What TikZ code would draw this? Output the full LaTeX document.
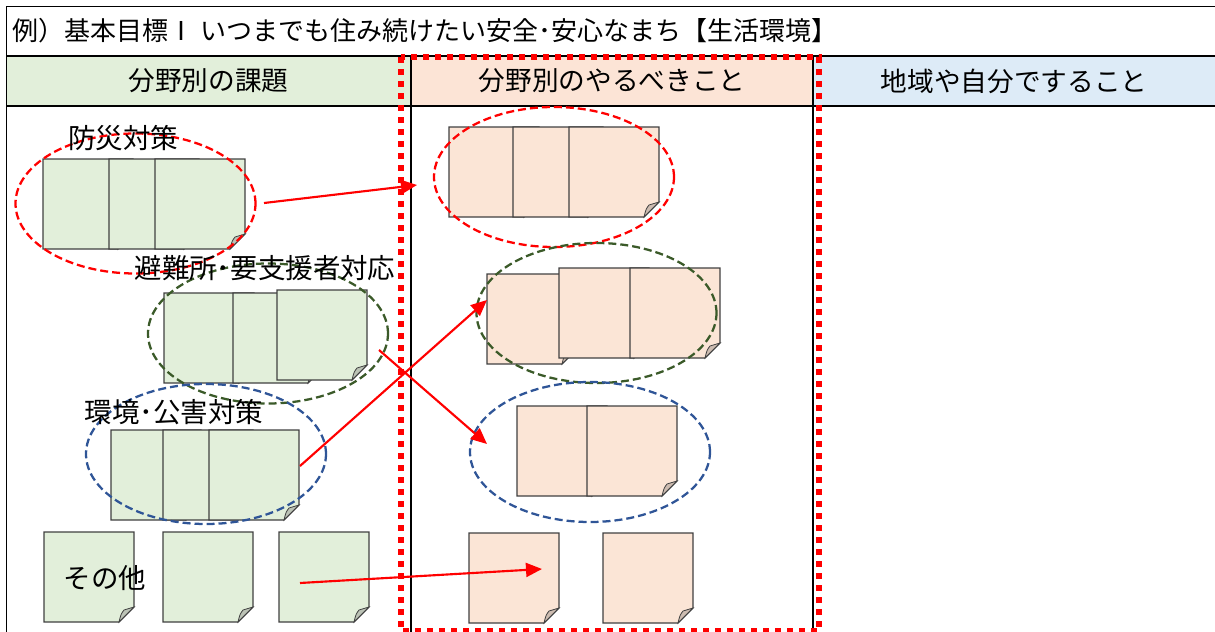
\documentclass[tikz,border=0pt]{standalone}
\usepackage{fontspec}
\setmainfont{Noto Sans CJK JP}
\usetikzlibrary{arrows.meta,shapes.geometric}
\definecolor{hgreen}{HTML}{E2EFDA}
\definecolor{hpink}{HTML}{FCE4D6}
\definecolor{hblue}{HTML}{DDEBF7}
\definecolor{ngreen}{HTML}{E2EFDA}
\definecolor{npink}{HTML}{FBE5D6}
\definecolor{fgreen}{HTML}{BCC3B6}
\definecolor{fpink}{HTML}{CDBCB1}
\definecolor{egreen}{HTML}{3B5A29}
\definecolor{eblue}{HTML}{2F5597}
\definecolor{ered}{HTML}{FF0000}
\definecolor{noteline}{HTML}{404040}
\tikzset{
  tableline/.style={line width=1.3pt, black},
  reddots/.style={draw=ered, line width=4.5pt, dash pattern=on 4.5pt off 4.5pt},
  notebody/.style={draw=noteline, line width=0.8pt, line join=miter},
  grp/.style={ellipse, inner sep=0pt, minimum width=180pt, minimum height=105pt,
              line width=1.7pt, dash pattern=on 6pt off 3pt},
  redgrp/.style={grp, draw=ered},
  greengrp/.style={grp, draw=egreen},
  bluegrp/.style={grp, draw=eblue},
  link/.style={draw=ered, line width=1.6pt, -{Triangle[length=12pt,width=10.5pt]}},
  lab/.style={font=\fontsize{19.5pt}{23pt}\selectfont, inner sep=0pt, text=black},
  hlab/.style={font=\fontsize{20pt}{23pt}\selectfont, inner sep=0pt, text=black},
  blab/.style={font=\fontsize{20.6pt}{24pt}\selectfont, inner sep=0pt, text=black},
}
\newcommand\snote[4]{%
  \begin{scope}[shift={(#1,#2)}]
    \filldraw[notebody, fill=#3] (0,0) -- (90,0) -- (90,75) -- (75,90) -- (0,90) -- cycle;
    \filldraw[notebody, fill=#4, line width=0.6pt] (90,75) .. controls (85,76) .. (80,78)
       .. controls (77,82) .. (75,90) -- cycle;
  \end{scope}}
\begin{document}
\begin{tikzpicture}[x=0.75pt,y=-0.75pt]
\useasboundingbox (0,0) rectangle (1215,632);
% header fills
\fill[hgreen] (6.5,56) rectangle (411,106);
\fill[hpink] (411,56) rectangle (813,106);
\fill[hblue] (813,56) rectangle (1215,106);
% table lines
\draw[tableline] (1216,6.5) -- (6.5,6.5) -- (6.5,633);
\draw[tableline] (6.5,56) -- (1216,56);
\draw[tableline] (6.5,106) -- (1216,106);
\draw[tableline] (411,56) -- (411,633);
\draw[tableline] (813,56) -- (813,633);
% title and headers
\node[lab, anchor=west] (title) at (12,31) {例）基本目標Ⅰ いつまでも住み続けたい安全･安心なまち【生活環境】};
\node[hlab] (h1) at (208.5,81) {分野別の課題};
\node[hlab] (h2) at (612,81) {分野別のやるべきこと};
\node[hlab] (h3) at (1014,81) {地域や自分ですること};
% red dotted frame
\draw[reddots] (401,57) rectangle (819,631);
% green notes
\snote{43}{159}{ngreen}{fgreen}
\snote{109}{159}{ngreen}{fgreen}
\snote{155}{159}{ngreen}{fgreen}
\snote{164}{293}{ngreen}{fgreen}
\snote{233}{293}{ngreen}{fgreen}
\snote{277}{290}{ngreen}{fgreen}
\snote{111}{430}{ngreen}{fgreen}
\snote{163}{430}{ngreen}{fgreen}
\snote{209}{430}{ngreen}{fgreen}
\snote{44}{532}{ngreen}{fgreen}
\snote{163}{532}{ngreen}{fgreen}
\snote{279}{532}{ngreen}{fgreen}
% pink notes
\snote{449}{127}{npink}{fpink}
\snote{513}{127}{npink}{fpink}
\snote{569}{127}{npink}{fpink}
\snote{487}{274}{npink}{fpink}
\snote{559}{268}{npink}{fpink}
\snote{630}{268}{npink}{fpink}
\snote{517}{406}{npink}{fpink}
\snote{587}{406}{npink}{fpink}
\snote{469}{533}{npink}{fpink}
\snote{603}{533}{npink}{fpink}
% group ellipses
\node[redgrp] (e1) at (135.5,203.5) {};
\node[redgrp] (e2) at (554,177) {};
\node[greengrp] (e3) at (268,333.5) {};
\node[greengrp] (e4) at (596.5,313) {};
\node[bluegrp] (e5) at (206,454) {};
\node[bluegrp] (e6) at (590,452) {};
% arrow end points
\coordinate (a1s) at (264,203);
\coordinate (a1e) at (417,185);
\coordinate (a2s) at (300,466);
\coordinate (a2e) at (487,300);
\coordinate (a3s) at (379,350);
\coordinate (a3e) at (487,444);
\coordinate (a4s) at (300,583);
\coordinate (a4e) at (542,569);
\draw[link] (a1s) -- (a1e);
\draw[link] (a2s) -- (a2e);
\draw[link] (a3s) -- (a3e);
\draw[link] (a4s) -- (a4e);
% labels
\node[blab] (l1) at (123,138) {防災対策};
\node[blab] (l2) at (265,268) {避難所･要支援者対応};
\node[blab] (l3) at (174,412) {環境･公害対策};
\node[blab] (l4) at (105,578) {その他};
\end{tikzpicture}
\end{document}
